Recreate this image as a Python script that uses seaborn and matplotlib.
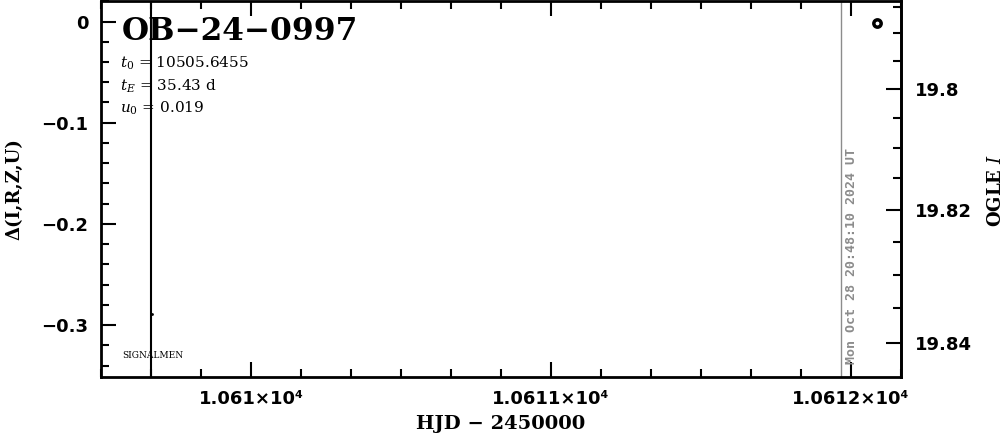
import numpy as np
import seaborn as sns
import matplotlib.pyplot as plt
from matplotlib.ticker import FixedLocator, FixedFormatter, MultipleLocator

sns.set_theme(style="ticks")
plt.rcParams['font.family'] = ['DejaVu Serif', 'DejaVu Sans']
plt.rcParams['mathtext.fontset'] = 'dejavuserif'
plt.rcParams['text.color'] = 'black'
plt.rcParams['axes.labelcolor'] = 'black'

# event info
event_name = "OB\u221224\u22120997"
t0_text = "10505.6455"
tE_text = "35.43 d"
u0_text = "0.019"
stamp = "Mon Oct 28 20:48:10 2024 UT"

# data points (HJD - 2450000, delta mag)
hjd_points = [10612.087]
delta_points = [-0.0015]
hjd_dot = [10609.67]
delta_dot = [-0.289]

# reference lines
peak_line_hjd = 10609.667
now_hjd = 10611.967

# axes ranges / ticks
x_range = [10609.5, 10612.1667]
y_range = [-0.3513, 0.0203]
x_major = [10610, 10611, 10612]
x_major_labels = ["1.061\u00d710\u2074", "1.0611\u00d710\u2074", "1.0612\u00d710\u2074"]
y_major = [0, -0.1, -0.2, -0.3]
y_major_labels = ["0", "\u22120.1", "\u22120.2", "\u22120.3"]
mag_major = [19.8, 19.82, 19.84]
mag_major_labels = ["19.8", "19.82", "19.84"]

m_ref = 19.8
c0, c1, c2 = -0.0667, -5.6596, -15.193


def mag_to_delta(m):
    d = np.asarray(m, dtype=float) - m_ref
    return c0 + c1 * d + c2 * d ** 2


def delta_to_mag(delta):
    delta = np.asarray(delta, dtype=float)
    disc = np.maximum(c1 ** 2 - 4 * c2 * (c0 - delta), 0)
    return m_ref + (-c1 - np.sqrt(disc)) / (2 * c2)


fig = plt.figure(figsize=(10.04, 4.34), dpi=100)
ax = fig.add_axes([101 / 1004, 1 - 377 / 434, 800 / 1004, 376 / 434])

ax.axvline(peak_line_hjd, color='black', lw=1.5, zorder=1)
ax.axvline(now_hjd, color='#8c8c8c', lw=1.0, zorder=1)

sns.scatterplot(x=hjd_points, y=delta_points, ax=ax, marker='o', s=28,
                facecolor='white', edgecolor='black', linewidth=2.5, zorder=3)
sns.scatterplot(x=hjd_dot, y=delta_dot, ax=ax, marker='o', s=4,
                color='black', linewidth=0, zorder=3)

ax.set_xlim(x_range)
ax.set_ylim(y_range)

ax.xaxis.set_major_locator(FixedLocator(x_major))
ax.xaxis.set_major_formatter(FixedFormatter(x_major_labels))
ax.xaxis.set_minor_locator(MultipleLocator(1 / 6))
ax.yaxis.set_major_locator(FixedLocator(y_major))
ax.yaxis.set_major_formatter(FixedFormatter(y_major_labels))
ax.yaxis.set_minor_locator(MultipleLocator(0.02))

for side in ['left', 'right', 'top', 'bottom']:
    ax.spines[side].set_linewidth(2)
    ax.spines[side].set_color('black')

tick_font = {'family': 'DejaVu Sans', 'weight': 'bold', 'size': 13}
ax.tick_params(axis='both', which='both', direction='in', colors='black', width=1.5)
ax.tick_params(axis='x', which='both', top=True, bottom=True, pad=9)
ax.tick_params(axis='y', which='both', left=True, right=False, pad=9)
ax.tick_params(which='major', length=10.5)
ax.tick_params(which='minor', length=5.5)
for lab in ax.get_xticklabels() + ax.get_yticklabels():
    lab.set_fontfamily(tick_font['family'])
    lab.set_fontweight(tick_font['weight'])
    lab.set_fontsize(tick_font['size'])

sec = ax.secondary_yaxis('right', functions=(delta_to_mag, mag_to_delta))
sec.yaxis.set_major_locator(FixedLocator(mag_major))
sec.yaxis.set_major_formatter(FixedFormatter(mag_major_labels))
sec.yaxis.set_minor_locator(MultipleLocator(0.005))
sec.spines['right'].set_linewidth(2)
sec.tick_params(axis='y', which='both', direction='in', width=1.5, pad=10, colors='black')
sec.tick_params(which='major', length=10.5)
sec.tick_params(which='minor', length=5.5)
for lab in sec.get_yticklabels():
    lab.set_fontfamily(tick_font['family'])
    lab.set_fontweight(tick_font['weight'])
    lab.set_fontsize(tick_font['size'])

ax.set_xlabel("HJD \u2212 2450000", fontsize=14, fontweight='bold')
ax.xaxis.set_label_coords(0.5, -0.1)
ax.set_ylabel("\u0394(I,R,Z,U)", fontsize=13, fontweight='bold', va='center')
ax.yaxis.set_label_coords(-0.108, 0.5)
fig.text(996 / 1004, 1 - 190 / 434, "OGLE $\\mathbf{\\mathit{I}}$", rotation=90,
         fontsize=13, fontweight='bold', ha='center', va='center')

ax.text(0.026, 0.896, event_name, transform=ax.transAxes, fontsize=22.5,
        fontweight='bold', va='baseline', ha='left')
ax.text(0.024, 0.822, "$t_0$ = " + t0_text, transform=ax.transAxes, fontsize=11,
        va='baseline', ha='left')
ax.text(0.024, 0.761, "$t_E$ = " + tE_text, transform=ax.transAxes, fontsize=11,
        va='baseline', ha='left')
ax.text(0.024, 0.702, "$u_0$ = " + u0_text, transform=ax.transAxes, fontsize=11,
        va='baseline', ha='left')
ax.text(0.026, 0.05, "SIGNALMEN", transform=ax.transAxes, fontsize=6.5,
        va='baseline', ha='left')

ax.annotate(stamp, xy=(now_hjd, 0), xycoords=('data', 'axes fraction'),
            xytext=(3, 9), textcoords='offset points', rotation=90,
            ha='left', va='bottom', color='#8c8c8c', fontsize=9.5,
            fontfamily='DejaVu Sans Mono', fontweight='bold')

fig.savefig('out.png', dpi=100)
